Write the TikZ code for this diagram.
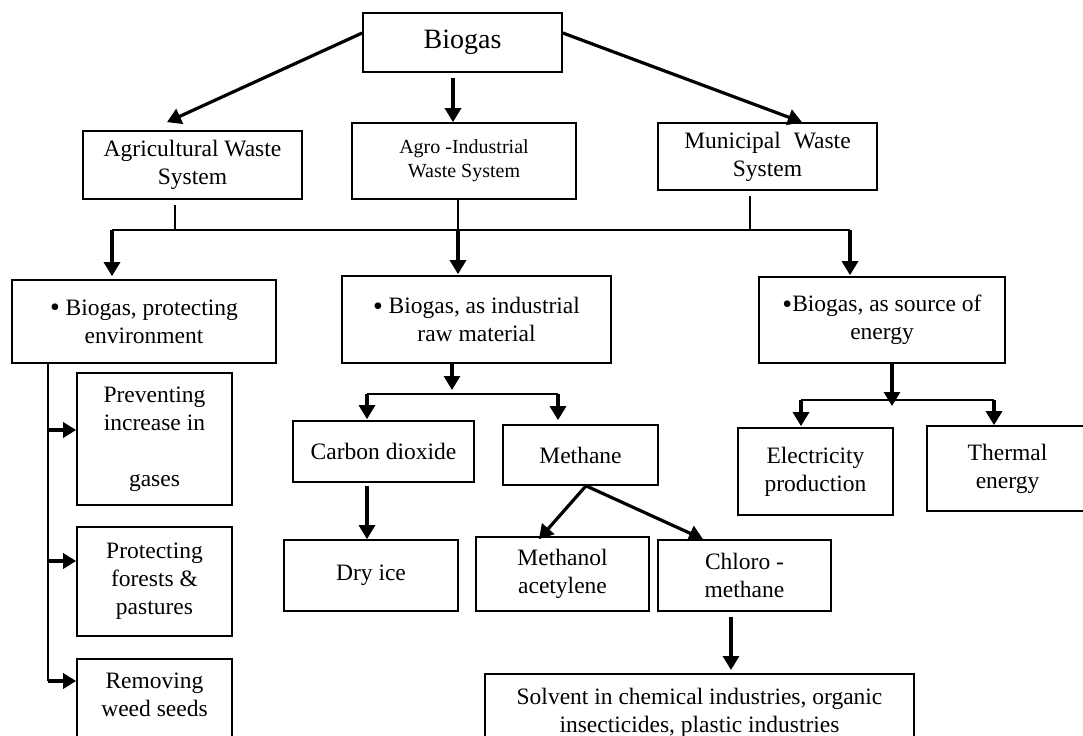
\documentclass[tikz,border=0pt]{standalone}
\usepackage{fontspec}
\setmainfont{Liberation Serif}
\usetikzlibrary{arrows.meta,calc}

% a slightly larger bullet
\newcommand{\bigdot}{\raisebox{-1.5bp}{\fontsize{28bp}{28bp}\selectfont •}}

\tikzset{
  box/.style={draw, line width=1.7bp, rectangle, inner sep=0pt, align=center,
              font=\fontsize{23.5bp}{28bp}\selectfont},
  bigarrow/.style={line width=3.2bp, -{Triangle[length=14bp,width=16bp]}},
  smallarrow/.style={line width=3.2bp, -{Triangle[length=13bp,width=15bp]}},
  thinline/.style={line width=1.4bp},
  midline/.style={line width=1.8bp},
}

\begin{document}
\begin{tikzpicture}[x=1bp,y=-1bp]
\fill[white] (0,0) rectangle (1083,736);
\useasboundingbox (0,0) rectangle (1083,736);
\clip (0,0) rectangle (1083,736);

% top level
\node[box, minimum width=199bp, minimum height=59bp, font=\fontsize{28bp}{32bp}\selectfont]
  (bio) at (462.5,42.5) {Biogas};

% waste systems
\node[box, minimum width=219bp, minimum height=68bp] (agri) at (192.5,165) {Agricultural Waste\\System};
\node[box, minimum width=224bp, minimum height=76bp, font=\fontsize{20bp}{24bp}\selectfont]
  (agro) at (464,161) {Agro -Industrial\\Waste System};
\node[box, minimum width=219bp, minimum height=67bp] (muni) at (767.5,156.5) {Municipal\hspace{0.55em}Waste\\System};

% uses of biogas
\node[box, minimum width=264bp, minimum height=83bp] (env) at (144,321.5) {\bigdot\ Biogas, protecting\\environment};
\node[box, minimum width=269bp, minimum height=87bp] (ind) at (476.5,319.5) {\bigdot\ Biogas, as industrial\\raw material};
\node[box, minimum width=246bp, minimum height=86bp] (energy) at (882,320) {\bigdot Biogas, as source of\\energy};

% environment branch
\node[box, minimum width=155bp, minimum height=132bp] (prev) at (154.5,439) {Preventing\\increase in\\~\\gases};
\node[box, minimum width=155bp, minimum height=109bp] (prot) at (154.5,581.5) {Protecting\\forests \&\\pastures};
\node[box, anchor=north, minimum width=155bp, minimum height=100bp] (remv) at (154.5,658) {Removing\\weed seeds\\~};

% industrial branch
\node[box, minimum width=181bp, minimum height=61bp] (carbon) at (383.5,451.5) {Carbon dioxide};
\node[box, minimum width=174bp, minimum height=71bp] (dry) at (371,575.5) {Dry ice};
\node[box, minimum width=155bp, minimum height=60bp] (methane) at (580.5,455) {Methane};
\node[box, minimum width=173bp, minimum height=74bp] (methanol) at (562.5,574) {Methanol\\acetylene};
\node[box, minimum width=173bp, minimum height=71bp] (chloro) at (744.5,575.5) {Chloro -\\methane};
\node[box, anchor=north, minimum width=429bp, minimum height=100bp] (solvent) at (699.5,673)
  {Solvent in chemical industries, organic\\insecticides, plastic industries\\~};

% energy branch
\node[box, minimum width=155bp, minimum height=87bp] (elec) at (815.5,471.5) {Electricity\\production};
\node[box, minimum width=161bp, minimum height=85bp] (therm) at (1007.5,468.5) {Thermal\\energy};

% Biogas to the three waste systems
\draw[bigarrow] ([yshift=9.5bp]bio.west) -- ($(agri.north)+(-25.5,-8)$);
\coordinate (bioOut) at ($(bio.south)+(-9.5,5)$);
\draw[bigarrow] (bioOut) -- (bioOut |- agro.north);
\draw[bigarrow] ([yshift=9.5bp]bio.east) -- ($(muni.north)+(34.5,0)$);

% collecting bus below the waste systems
\coordinate (busL) at (112,230);
\coordinate (busR) at (850,230);
\coordinate (jA) at (175,230);
\coordinate (jB) at (458,230);
\coordinate (jC) at (750,230);
\draw[thinline] ($(agri.south -| jA)+(0,5)$) -- (jA);
\draw[thinline] (agro.south -| jB) -- (jB);
\draw[thinline] ($(muni.south -| jC)+(0,5)$) -- (jC);
\draw[thinline] (busL) -- (busR);
\draw[bigarrow] (busL) -- ($(busL |- env.north)+(0,-3)$);
\draw[bigarrow] (jB) -- ($(jB |- ind.north)+(0,-1)$);
\draw[bigarrow] (busR) -- ($(busR |- energy.north)+(0,-1)$);

% environment branch connectors
\coordinate (lB) at (48,681);
\coordinate (a1) at (48,430);
\coordinate (a2) at (48,561);
\draw[thinline] (env.south -| lB) -- (lB);
\draw[smallarrow] (a1) -- (a1 -| prev.west);
\draw[smallarrow] (a2) -- (a2 -| prot.west);
\draw[smallarrow] (lB) -- (lB -| remv.west);

% industrial branch connectors
\coordinate (iM) at (452,394);
\coordinate (iL) at (367,394);
\coordinate (iR) at (558,394);
\draw[bigarrow] (ind.south -| iM) -- ($(iM)+(0,-4)$);
\draw[midline] (iL) -- (iR);
\draw[bigarrow] (iL) -- ($(iL |- carbon.north)+(0,-1)$);
\draw[bigarrow] (iR) -- ($(iR |- methane.north)+(0,-4)$);
\draw[bigarrow] ($(carbon.south -| iL)+(0,3)$) -- (iL |- dry.north);
\coordinate (mO) at ($(methane.south)+(5.5,0)$);
\draw[bigarrow] (mO) -- ($(methanol.north)+(-23.5,3)$);
\draw[bigarrow] (mO) -- ($(chloro.north)+(-41.5,0)$);
\coordinate (cO) at ($(chloro.south)+(-13.5,5)$);
\draw[bigarrow] (cO) -- ($(cO |- solvent.north)+(0,-3)$);

% energy branch connectors
\coordinate (eM) at (892,400);
\coordinate (eL) at (801,400);
\coordinate (eR) at (994,400);
\draw[bigarrow] (energy.south -| eM) -- ($(eM)+(0,6)$);
\draw[midline] (eL) -- (eR);
\draw[bigarrow] (eL) -- ($(eL |- elec.north)+(0,-1)$);
\draw[bigarrow] (eR) -- (eR |- therm.north);
\end{tikzpicture}
\end{document}
